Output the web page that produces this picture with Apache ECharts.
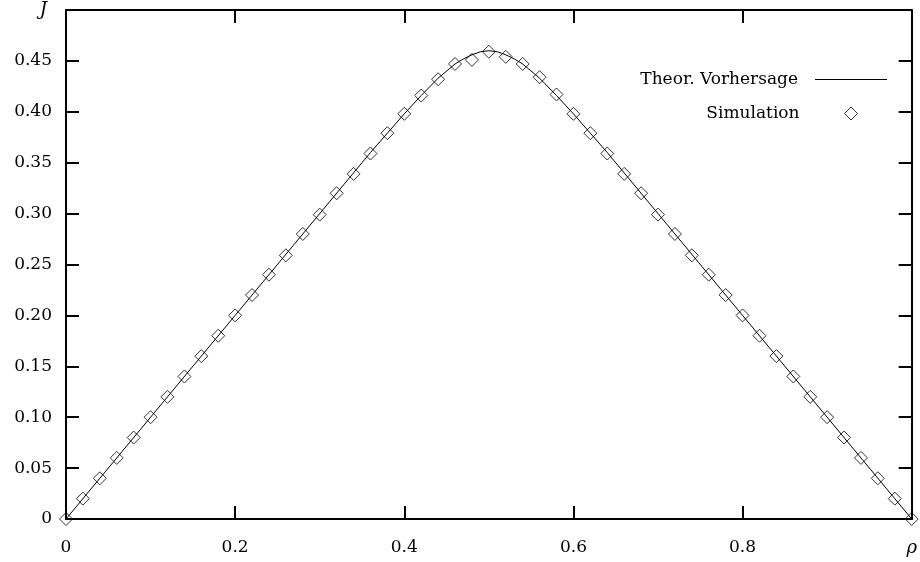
<!DOCTYPE html>
<html>
<head>
<meta charset="utf-8">
<script src="https://cdn.jsdelivr.net/npm/echarts@6/dist/echarts.min.js"></script>
<style>html,body{margin:0;padding:0;background:#fff;}#chart{width:920px;height:562px;}</style>
</head>
<body>
<div id="chart"></div>
<script>
var rhoSim = [0,0.02,0.04,0.06,0.08,0.10,0.12,0.14,0.16,0.18,0.20,0.22,0.24,0.26,0.28,0.30,0.32,0.34,0.36,0.38,0.40,0.42,0.44,0.46,0.48,0.50,0.52,0.54,0.56,0.58,0.60,0.62,0.64,0.66,0.68,0.70,0.72,0.74,0.76,0.78,0.80,0.82,0.84,0.86,0.88,0.90,0.92,0.94,0.96,0.98,1.00];
var jSim = [0,0.020,0.040,0.060,0.080,0.100,0.120,0.140,0.160,0.180,0.200,0.220,0.240,0.259,0.280,0.299,0.320,0.339,0.359,0.379,0.398,0.416,0.432,0.447,0.451,0.459,0.454,0.447,0.434,0.417,0.398,0.379,0.359,0.339,0.320,0.299,0.280,0.259,0.240,0.220,0.200,0.180,0.160,0.140,0.120,0.100,0.080,0.060,0.040,0.020,0];
var rhoTheo = [0,0.20,0.36,0.38,0.40,0.42,0.44,0.46,0.47,0.48,0.49,0.50,0.51,0.52,0.53,0.54,0.56,0.58,0.60,0.62,0.64,0.80,1.00];
var jTheo = [0,0.200,0.360,0.379,0.398,0.416,0.433,0.447,0.452,0.456,0.459,0.460,0.459,0.456,0.452,0.447,0.433,0.416,0.398,0.379,0.360,0.200,0];
var xTickLabels = ['0','0.2','0.4','0.6','0.8','ρ'];
var yTickLabels = ['0','0.05','0.10','0.15','0.20','0.25','0.30','0.35','0.40','0.45','J'];
var seriesNames = ['Theor. Vorhersage','Simulation'];

var FONT = 'DejaVu Serif';
var FS = 17;
function zip(a,b){return a.map(function(v,i){return [v,b[i]];});}
var chart = echarts.init(document.getElementById('chart'), null, {renderer:'canvas'});
var tickStyle = {show:true, inside:true, length:13, lineStyle:{color:'#000', width:2}};
var lineStyle = {show:true, onZero:false, lineStyle:{color:'#000', width:2}};
chart.setOption({
  animation:false,
  backgroundColor:'#fff',
  grid:{left:66, right:5, top:10, bottom:43, show:false},
  legend:[{
    orient:'vertical', align:'right', right:33, top:71, padding:0,
    itemWidth:72, itemHeight:1, selectedMode:false,
    textStyle:{fontFamily:FONT, fontSize:FS, color:'#000', padding:[0,12,0,0]},
    data:[{name:seriesNames[0], icon:'rect', itemStyle:{color:'#000'}}]
  },{
    orient:'vertical', align:'right', right:62, top:105, padding:0,
    itemWidth:13, itemHeight:13, selectedMode:false,
    textStyle:{fontFamily:FONT, fontSize:FS, color:'#000', padding:[0,40,0,0]},
    data:[{name:seriesNames[1], icon:'diamond', itemStyle:{color:'rgba(0,0,0,0)', borderColor:'#000', borderWidth:1}}]
  }],
  xAxis:[{
    type:'value', min:0, max:1, interval:0.2, position:'bottom',
    axisLine:lineStyle, axisTick:tickStyle, splitLine:{show:false},
    axisLabel:{margin:20, color:'#000', fontFamily:FONT, fontSize:FS,
      formatter:function(v,i){return i===xTickLabels.length-1 ? '{i|'+xTickLabels[i]+'}' : xTickLabels[i];},
      rich:{i:{fontStyle:'italic', fontFamily:FONT, fontSize:18, color:'#000'}}}
  },{
    type:'value', min:0, max:1, interval:0.2, position:'top',
    axisLine:lineStyle, axisTick:tickStyle, axisLabel:{show:false}, splitLine:{show:false}
  }],
  yAxis:[{
    type:'value', min:0, max:0.5, interval:0.05, position:'left',
    axisLine:lineStyle, axisTick:tickStyle, splitLine:{show:false},
    axisLabel:{margin:14, color:'#000', fontFamily:FONT, fontSize:FS,
      formatter:function(v,i){return i===yTickLabels.length-1 ? '{i|'+yTickLabels[i]+'}' : yTickLabels[i];},
      rich:{i:{fontStyle:'italic', fontFamily:FONT, fontSize:18, color:'#000', padding:[0,5,0,0]}}}
  },{
    type:'value', min:0, max:0.5, interval:0.05, position:'right',
    axisLine:lineStyle, axisTick:tickStyle, axisLabel:{show:false}, splitLine:{show:false}
  }],
  series:[{
    name:seriesNames[0], type:'line', data:zip(rhoTheo,jTheo),
    symbol:'none', lineStyle:{color:'#000', width:1}, itemStyle:{color:'#000'}, z:2
  },{
    name:seriesNames[1], type:'scatter', data:zip(rhoSim,jSim),
    symbol:'diamond', symbolSize:13,
    itemStyle:{color:'rgba(0,0,0,0)', borderColor:'#000', borderWidth:1}, z:3
  }]
});
</script>
</body>
</html>
